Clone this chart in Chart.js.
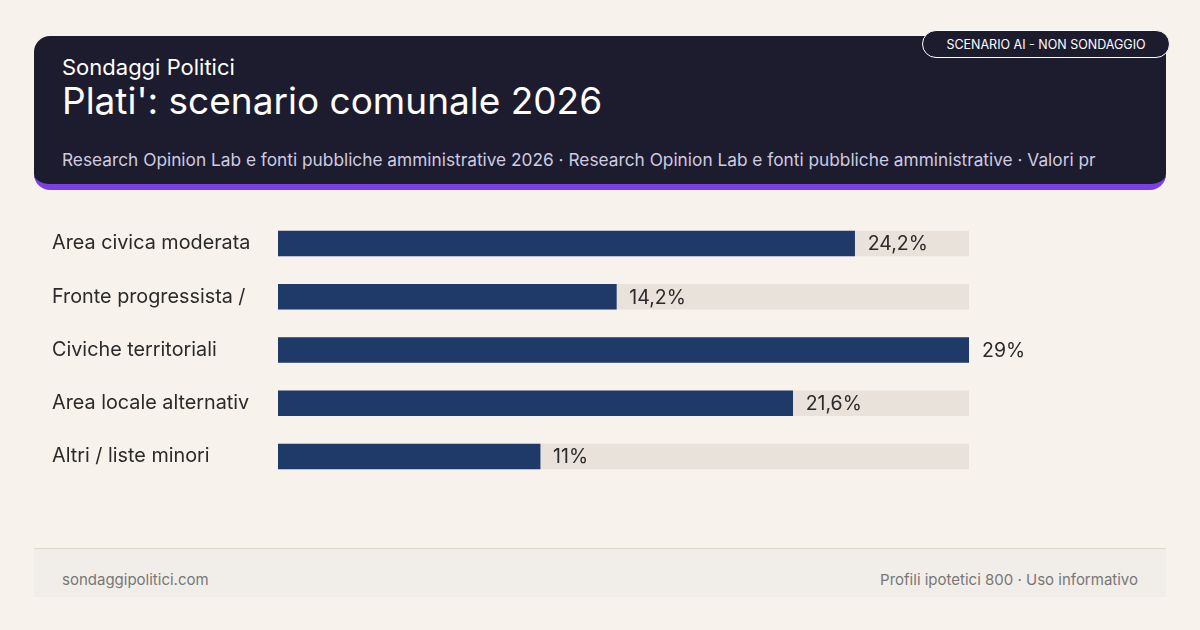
<!DOCTYPE html>
<html><head><meta charset="utf-8">
<script src="https://cdn.jsdelivr.net/npm/chart.js@4"></script>
<style>
body{margin:0;width:1200px;height:630px;background:#f7f3ec;font-family:Inter,sans-serif;position:relative;overflow:hidden}
#hdr{position:absolute;left:34px;top:36px;width:1132px;height:148px;background:#1d1c2e;border-radius:16px;border-bottom:6px solid #7b3fe4;box-sizing:content-box}
#hdr .k{position:absolute;left:28px;top:18px;color:#fff;font-size:22px}
#hdr .t{position:absolute;left:28px;top:42px;color:#fff;font-size:37px}
#hdr .s{position:absolute;left:28px;top:113px;color:#cfcbe0;font-size:17.3px;white-space:nowrap;width:1040px;overflow:hidden}
#badge{position:absolute;left:922px;top:30px;width:248px;height:28px;border:1px solid #fff;border-radius:14px;background:#1d1c2e;color:#fff;font-size:12.5px;line-height:28px;text-align:center;box-sizing:border-box}
#wrap{position:absolute;left:40px;top:205px;width:1060px;height:290px}
#foot{position:absolute;left:34px;top:548px;width:1132px;height:48px;background:#f1eee9;border-top:1px solid #dcd8d0;color:#777;font-size:15px}
#foot .l{position:absolute;left:28px;top:21px}
#foot .r{position:absolute;right:28px;top:21px}
</style></head><body>
<div id="hdr"><div class="k">Sondaggi Politici</div><div class="t">Plati': scenario comunale 2026</div>
<div class="s">Research Opinion Lab e fonti pubbliche amministrative 2026 · Research Opinion Lab e fonti pubbliche amministrative · Valori pr</div></div>
<div id="badge">SCENARIO AI - NON SONDAGGIO</div>
<div id="wrap"><canvas id="c"></canvas></div>
<div id="foot"><span class="l">sondaggipolitici.com</span><span class="r">Profili ipotetici 800 · Uso informativo</span></div>
<script>
const categories=["Area civica moderata","Fronte progressista /","Civiche territoriali","Area locale alternativ","Altri / liste minori"];
const values=[24.2,14.2,29,21.6,11];
const valueLabels=["24,2%","14,2%","29%","21,6%","11%"];
const maxVal=29;
const vl={id:'vl',afterDatasetsDraw(ch){const ctx=ch.ctx;const m=ch.getDatasetMeta(1);ctx.save();ctx.font='19.5px Inter';ctx.fillStyle='#2a2a2a';ctx.textBaseline='middle';m.data.forEach((b,i)=>{ctx.fillText(valueLabels[i],b.x+13,b.y+1);});ctx.restore();}};
new Chart(document.getElementById('c'),{type:'bar',
data:{labels:categories,datasets:[
{data:categories.map(()=>maxVal),backgroundColor:'#e8e2da',barThickness:25,grouped:false,order:2},
{data:values,backgroundColor:'#1f3a68',barThickness:25,grouped:false,order:1}]},
options:{indexAxis:'y',responsive:true,maintainAspectRatio:false,animation:false,
layout:{padding:{top:0,bottom:0,left:12,right:131}},
plugins:{legend:{display:false},tooltip:{enabled:false}},
scales:{x:{display:false,min:0,max:maxVal},
y:{grid:{display:false},border:{display:false},afterFit(s){s.width=226;},
ticks:{crossAlign:'far',color:'#2a2a2a',font:{size:19.8,family:'Inter'},padding:0}}}},
plugins:[vl]});
</script></body></html>
